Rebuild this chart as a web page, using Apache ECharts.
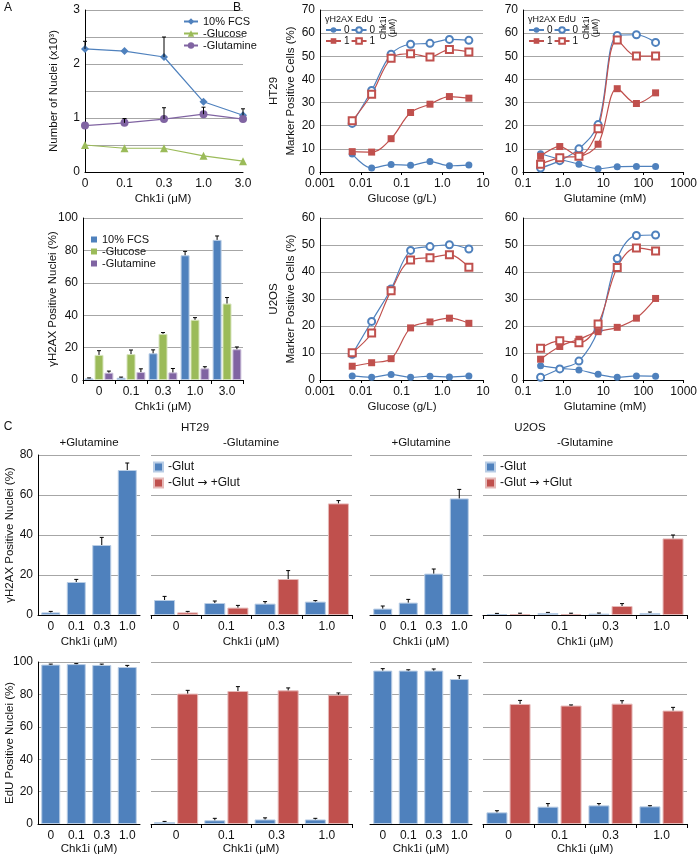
<!DOCTYPE html>
<html>
<head>
<meta charset="utf-8">
<script src="https://cdn.jsdelivr.net/npm/echarts@6/dist/echarts.min.js"></script>
<style>
html, body { margin: 0; padding: 0; background: #fff; }
#main { width: 700px; height: 857px; }
</style>
</head>
<body>
<div id="main"></div>
<script>
// ---- panel A: Chk1i dose series
const chkDoses = ['0', '0.1', '0.3', '1.0', '3.0']
const nucleiFCS = [2.28, 2.24, 2.13, 1.30, 1.05]
const nucleiFCSErr = [0.14, 0, 0.37, 0, 0.12]
const nucleiGlucose = [0.50, 0.44, 0.44, 0.30, 0.20]
const nucleiGlutamine = [0.86, 0.91, 0.98, 1.07, 0.98]
const nucleiGlutamineErr = [0, 0.08, 0.21, 0.13, 0]

const h2axFCS = [1.0, 1.4, 16.5, 77, 86.5]
const h2axFCSErr = [0.3, 0.4, 2.1, 2.4, 2.4]
const h2axGlucose = [15.5, 16, 28.5, 37.2, 47.2]
const h2axGlucoseErr = [2.6, 2.5, 0.8, 1.3, 3.7]
const h2axGlutamine = [4.5, 4.9, 4.7, 7.2, 19]
const h2axGlutamineErr = [1.0, 2.0, 2.4, 1.0, 1.4]

// ---- panel B: nutrient titrations (x values)
const glucoseConc = [0.00617, 0.0185, 0.0556, 0.167, 0.5, 1.5, 4.5]
const glutamineConc = [0.274, 0.823, 2.47, 7.41, 22.2, 66.7, 200]

// HT29, glucose
const ht29GlcH2ax0 = [7.8, 1.7, 3.2, 2.9, 4.5, 2.7, 3.0]
const ht29GlcEdu0 = [21, 35.2, 50.9, 55.2, 55.6, 57.3, 56.9]
const ht29GlcH2ax1 = [8.8, 8.6, 14.4, 25.7, 29.3, 32.6, 31.9]
const ht29GlcEdu1 = [22.1, 33.6, 49.1, 51.1, 49.7, 52.9, 51.9]
// HT29, glutamine
const ht29GlnH2ax0 = [7.9, 5.5, 3.4, 1.4, 2.3, 2.4, 2.4]
const ht29GlnEdu0 = [1.7, 4.9, 10, 20.5, 59, 59.3, 56]
const ht29GlnH2ax1 = [6.8, 11, 7, 12, 36, 29.6, 34.2]
const ht29GlnEdu1 = [3.3, 6.2, 6.8, 18.7, 57, 50.1, 50.1]
// U2OS, glucose
const u2osGlcH2ax0 = [1.5, 1.0, 2.0, 1.0, 1.4, 1.1, 1.5]
const u2osGlcEdu0 = [9.5, 21.7, 33.7, 48.0, 49.4, 50.1, 48.5]
const u2osGlcH2ax1 = [5.1, 6.4, 7.9, 19.3, 21.5, 22.9, 21.0]
const u2osGlcEdu1 = [10.1, 17.4, 33.1, 44.4, 45.3, 46.4, 41.8]
// U2OS, glutamine
const u2osGlnH2ax0 = [5.3, 4.3, 3.7, 2.1, 1.0, 1.5, 1.4]
const u2osGlnEdu0 = [1.0, 4.1, 7.0, 18.5, 45, 53.5, 53.7]
const u2osGlnH2ax1 = [7.7, 12.4, 15.1, 17.9, 19.5, 22.9, 30.2]
const u2osGlnEdu1 = [11.8, 14.5, 13.8, 20.7, 41.7, 48.9, 47.8]

// ---- panel C: glutamine add-back
const cDoses = ['0', '0.1', '0.3', '1.0']
const ht29H2axPlus = [1.3, 16.5, 35, 72.5]
const ht29H2axPlusErr = [0.5, 1.3, 3.8, 3.5]
const ht29H2axMinus = [7.5, 6, 5.7, 6.7]
const ht29H2axMinusErr = [1.8, 1, 1, 0.5]
const ht29H2axBack = [1.3, 3.7, 18, 55.8]
const ht29H2axBackErr = [0.5, 1.1, 4.2, 1.4]
const u2osH2axPlus = [3.2, 6.2, 20.7, 58.3]
const u2osH2axPlusErr = [1.3, 1.6, 2.3, 4.5]
const u2osH2axMinus = [0.5, 1, 0.7, 1]
const u2osH2axMinusErr = [0.3, 0.3, 0.3, 0.5]
const u2osH2axBack = [0.5, 0.5, 4.5, 38.3]
const u2osH2axBackErr = [0.4, 0.4, 1.2, 1.7]

const ht29EduPlus = [98.4, 98.7, 98.2, 96.9]
const ht29EduPlusErr = [0.3, 0.3, 0.5, 1]
const ht29EduMinus = [1.2, 2.3, 2.8, 2.8]
const ht29EduMinusErr = [0.4, 1.2, 1, 0.7]
const ht29EduBack = [80.5, 82.1, 82.5, 79.8]
const ht29EduBackErr = [2, 2.7, 1.5, 1.1]
const u2osEduPlus = [94.7, 94.7, 94.7, 89.5]
const u2osEduPlusErr = [1.2, 0.5, 1, 2.1]
const u2osEduMinus = [7.2, 10.7, 11.5, 10.9]
const u2osEduMinusErr = [1, 1.9, 1.1, 0.4]
const u2osEduBack = [74.1, 73.1, 74.3, 70.0]
const u2osEduBackErr = [2.2, 0.4, 1.8, 2]

const FONT = '"Liberation Sans", Arial, sans-serif'
const BLUE = '#4f81bd'
const RED = '#c0504d'
const GREEN = '#9bbb59'
const PURPLE = '#8064a2'
const GRIDC = '#a6a6a6'

var chart = echarts.init(document.getElementById('main'))

// grid boxes: [left, top, width, height]
const boxes = [
  [85, 10, 158, 162], [83, 218, 160, 162],
  [320, 10, 163, 162], [523, 10, 163, 162], [320, 218, 163, 162], [523, 218, 163, 162],
  [38, 455, 102, 160], [151, 455, 201, 160], [370, 455, 102, 160], [483, 455, 204, 160],
  [38, 662, 102, 162], [151, 662, 201, 162], [370, 662, 102, 162], [483, 662, 204, 162],
]
const grid = boxes.map((b) => ({ left: b[0], top: b[1], width: b[2], height: b[3], containLabel: false }))

const tickText = { color: '#111', fontSize: 12, fontFamily: FONT }
const blackLine = { show: true, lineStyle: { color: '#000', width: 1 } }

function logLabel(v) {
  const r = +Number(v).toPrecision(2)
  return r === 1 ? '1.0' : String(r)
}

function catX(i, data, opts) {
  return Object.assign({
    type: 'category', gridIndex: i, data: data,
    axisLine: blackLine,
    axisTick: { show: false },
    axisLabel: Object.assign({ interval: 0, margin: 6 }, tickText),
    splitLine: { show: false },
  }, opts)
}
function logX(i, min, max) {
  return {
    type: 'log', gridIndex: i, min: min, max: max, logBase: 10,
    axisLine: blackLine,
    axisTick: { show: true, length: 3, lineStyle: { color: '#000' } },
    axisLabel: Object.assign({ margin: 6, formatter: logLabel, showMinLabel: true, showMaxLabel: true }, tickText),
    splitLine: { show: false },
  }
}
function valY(i, max, interval, labels, axisOn, fmt) {
  return {
    type: 'value', gridIndex: i, min: 0, max: max, interval: interval,
    axisLine: axisOn ? blackLine : { show: false },
    axisTick: { show: false },
    axisLabel: Object.assign({ show: labels, margin: 5, formatter: fmt }, tickText),
    splitLine: { show: true, lineStyle: { color: GRIDC, width: 1 } },
  }
}

const xAxis = [
  catX(0, chkDoses, { boundaryGap: false }),
  catX(1, chkDoses, { axisTick: { show: true, length: 4, lineStyle: { color: '#000' } } }),
  logX(2, 0.001, 10), logX(3, 0.1, 1000), logX(4, 0.001, 10), logX(5, 0.1, 1000),
]
const yAxis = [
  valY(0, 3, 0.5, true, true, (v) => (v % 1 === 0 ? String(v) : '')),
  valY(1, 100, 20, true, true),
  valY(2, 70, 10, true, true), valY(3, 70, 10, true, true),
  valY(4, 60, 10, true, true), valY(5, 60, 10, true, true),
]
for (let i = 6; i < 14; i++) {
  const minus = i % 2 === 1
  xAxis.push(catX(i, cDoses, {
    axisTick: { show: minus, length: 4, lineStyle: { color: '#000' } },
  }))
  const left = i === 6 || i === 10
  yAxis.push(valY(i, i < 10 ? 80 : 100, 20, left, left))
}

// upward error bars drawn through the axes
function errSeries(ax, values, errs, offset) {
  return {
    type: 'custom', xAxisIndex: ax, yAxisIndex: ax, z: 5, silent: true,
    data: values.map((v, i) => [i, v, errs[i]]),
    renderItem: function (params, api) {
      const e = api.value(2)
      if (!e) return null
      const base = api.coord([api.value(0), api.value(1)])
      const top = api.coord([api.value(0), api.value(1) + e])
      const x = base[0] + offset
      return {
        type: 'group',
        children: [
          { type: 'line', shape: { x1: x, y1: base[1], x2: x, y2: top[1] }, style: { stroke: '#000', lineWidth: 1 } },
          { type: 'line', shape: { x1: x - 2, y1: top[1], x2: x + 2, y2: top[1] }, style: { stroke: '#000', lineWidth: 1 } },
        ],
      }
    },
  }
}
function lineA(name, data, color, symbol) {
  return {
    type: 'line', name: name, xAxisIndex: 0, yAxisIndex: 0, data: data,
    symbol: symbol, symbolSize: 8,
    lineStyle: { color: color, width: 1.2 }, itemStyle: { color: color },
  }
}
function barA(name, data, color, border) {
  return {
    type: 'bar', name: name, xAxisIndex: 1, yAxisIndex: 1, data: data,
    barWidth: 9, barGap: '10%',
    itemStyle: { color: color, borderColor: border, borderWidth: 1 },
  }
}
function curve(name, ax, xs, ys, color, symbol) {
  return {
    type: 'line', name: name, xAxisIndex: ax, yAxisIndex: ax,
    data: xs.map((x, i) => [x, ys[i]]),
    smooth: 0.35, symbol: symbol, symbolSize: 7,
    lineStyle: { color: color, width: 1.2 },
    itemStyle: { color: color, borderWidth: 1.2 },
  }
}
function barC(name, ax, data, color, border, w) {
  return {
    type: 'bar', name: name, xAxisIndex: ax, yAxisIndex: ax, data: data,
    barWidth: w, barGap: '10%',
    itemStyle: { color: color, borderColor: border, borderWidth: 1 },
  }
}

const series = [
  lineA('10% FCS', nucleiFCS, BLUE, 'diamond'),
  lineA('-Glucose', nucleiGlucose, GREEN, 'triangle'),
  lineA('-Glutamine', nucleiGlutamine, PURPLE, 'circle'),
  errSeries(0, nucleiFCS, nucleiFCSErr, 0),
  errSeries(0, nucleiGlutamine, nucleiGlutamineErr, 0),

  barA('10% FCS', h2axFCS, BLUE, '#b9cde5'),
  barA('-Glucose', h2axGlucose, GREEN, '#d7e4bd'),
  barA('-Glutamine', h2axGlutamine, PURPLE, '#ccc1da'),
  errSeries(1, h2axFCS, h2axFCSErr, -9.9),
  errSeries(1, h2axGlucose, h2axGlucoseErr, 0),
  errSeries(1, h2axGlutamine, h2axGlutamineErr, 9.9),
]

const bSets = [
  [2, glucoseConc, ht29GlcH2ax0, ht29GlcEdu0, ht29GlcH2ax1, ht29GlcEdu1],
  [3, glutamineConc, ht29GlnH2ax0, ht29GlnEdu0, ht29GlnH2ax1, ht29GlnEdu1],
  [4, glucoseConc, u2osGlcH2ax0, u2osGlcEdu0, u2osGlcH2ax1, u2osGlcEdu1],
  [5, glutamineConc, u2osGlnH2ax0, u2osGlnEdu0, u2osGlnH2ax1, u2osGlnEdu1],
]
bSets.forEach((s) => {
  series.push(curve('γH2AX 0', s[0], s[1], s[2], BLUE, 'circle'))
  series.push(curve('EdU 0', s[0], s[1], s[3], BLUE, 'emptyCircle'))
  series.push(curve('γH2AX 1', s[0], s[1], s[4], RED, 'rect'))
  series.push(curve('EdU 1', s[0], s[1], s[5], RED, 'emptyRect'))
})

const cPlus = [[6, ht29H2axPlus, ht29H2axPlusErr], [8, u2osH2axPlus, u2osH2axPlusErr],
  [10, ht29EduPlus, ht29EduPlusErr], [12, u2osEduPlus, u2osEduPlusErr]]
cPlus.forEach((s) => {
  series.push(barC('+Glutamine', s[0], s[1], BLUE, '#b9cde5', 19))
  series.push(errSeries(s[0], s[1], s[2], 0))
})
const cMinus = [
  [7, ht29H2axMinus, ht29H2axMinusErr, ht29H2axBack, ht29H2axBackErr],
  [9, u2osH2axMinus, u2osH2axMinusErr, u2osH2axBack, u2osH2axBackErr],
  [11, ht29EduMinus, ht29EduMinusErr, ht29EduBack, ht29EduBackErr],
  [13, u2osEduMinus, u2osEduMinusErr, u2osEduBack, u2osEduBackErr],
]
cMinus.forEach((s) => {
  series.push(barC('-Glut', s[0], s[1], BLUE, '#b9cde5', 21))
  series.push(barC('-Glut → +Glut', s[0], s[3], RED, '#e6b9b8', 21))
  series.push(errSeries(s[0], s[1], s[2], -11.55))
  series.push(errSeries(s[0], s[3], s[4], 11.55))
})

function legendBox(names, left, top, opts) {
  return Object.assign({
    data: names, left: left, top: top, orient: 'vertical', selectedMode: false,
    padding: 0, itemGap: 1, itemWidth: 14, itemHeight: 8,
    textStyle: { color: '#111', fontSize: 11, fontFamily: FONT, lineHeight: 10 },
  }, opts)
}
const rectItems = (names) => names.map((n) => ({ name: n, icon: 'rect' }))
const bLegend = (left, top, names) => legendBox(names, left, top, {
  orient: 'horizontal', itemGap: 1, itemWidth: 15, itemHeight: 7,
  formatter: (n) => n.slice(-1),
  textStyle: { color: '#111', fontSize: 10, fontFamily: FONT, padding: [0, 0, 0, -2] },
})
const cLegend = (left) => legendBox(rectItems(['-Glut', '-Glut → +Glut']), left, 460, {
  itemWidth: 9, itemHeight: 9, itemGap: 2,
  formatter: (n) => n.replace('→', '{a|→}'),
  textStyle: {
    color: '#111', fontSize: 12, fontFamily: FONT, lineHeight: 14,
    rich: { a: { fontFamily: 'DejaVu Sans', fontSize: 12, lineHeight: 14 } },
  },
})
const legend = [
  legendBox(['10% FCS', '-Glucose', '-Glutamine'], 183, 16, { itemWidth: 14 }),
  legendBox(rectItems(['10% FCS', '-Glucose', '-Glutamine']), 91, 234, { itemWidth: 6, itemHeight: 6, itemGap: 1 }),
  bLegend(325, 25, ['γH2AX 0', 'EdU 0']),
  bLegend(325, 36, ['γH2AX 1', 'EdU 1']),
  bLegend(528, 25, ['γH2AX 0', 'EdU 0']),
  bLegend(528, 36, ['γH2AX 1', 'EdU 1']),
  cLegend(153),
  cLegend(485),
]

function label(text, x, y, size, rot, align) {
  return {
    type: 'text', x: x, y: y, rotation: rot ? Math.PI / 2 : 0, z: 100, silent: true,
    style: { text: text, font: size + 'px ' + FONT, fill: '#111', align: align || 'center', verticalAlign: 'middle' },
  }
}
const texts = [
  label('A', 8, 8, 12), label('B', 237, 8, 12), label('C', 8, 427, 12),
  label('Number of Nuclei (x10³)', 54, 91, 11.5, true),
  label('Chk1i (μM)', 163, 199, 11.5),
  label('γH2AX Positive Nuclei (%)', 53, 299, 11.5, true),
  label('Chk1i (μM)', 163, 407, 11.5),
  label('HT29', 274, 91, 11.5, true), label('Marker Positive Cells (%)', 291, 91, 11.5, true),
  label('U2OS', 274, 299, 11.5, true), label('Marker Positive Cells (%)', 291, 299, 11.5, true),
  label('Glucose (g/L)', 402, 199, 11.5), label('Glucose (g/L)', 402, 407, 11.5),
  label('Glutamine (mM)', 605, 199, 11.5), label('Glutamine (mM)', 605, 407, 11.5),
  label('γH2AX EdU', 325, 20, 9, false, 'left'), label('γH2AX EdU', 528, 20, 9, false, 'left'),
  label('Chk1i\n(μM)', 388, 28, 9, true), label('Chk1i\n(μM)', 591, 28, 9, true),
  label('HT29', 195, 428, 11.5), label('+Glutamine', 89, 443, 11.5), label('-Glutamine', 251, 443, 11.5),
  label('U2OS', 530, 428, 11.5), label('+Glutamine', 421, 443, 11.5), label('-Glutamine', 585, 443, 11.5),
  label('γH2AX Positive Nuclei (%)', 10, 535, 11.5, true),
  label('EdU Positive Nuclei (%)', 10, 743, 11.5, true),
]
;[89, 251, 421, 585].forEach((x) => {
  texts.push(label('Chk1i (μM)', x, 642, 11.5))
  texts.push(label('Chk1i (μM)', x, 849, 11.5))
})

var option = {
  backgroundColor: '#fff',
  animation: false,
  textStyle: { fontFamily: FONT },
  grid: grid,
  xAxis: xAxis,
  yAxis: yAxis,
  legend: legend,
  series: series,
  graphic: texts,
}
option && chart.setOption(option)
</script>
</body>
</html>
